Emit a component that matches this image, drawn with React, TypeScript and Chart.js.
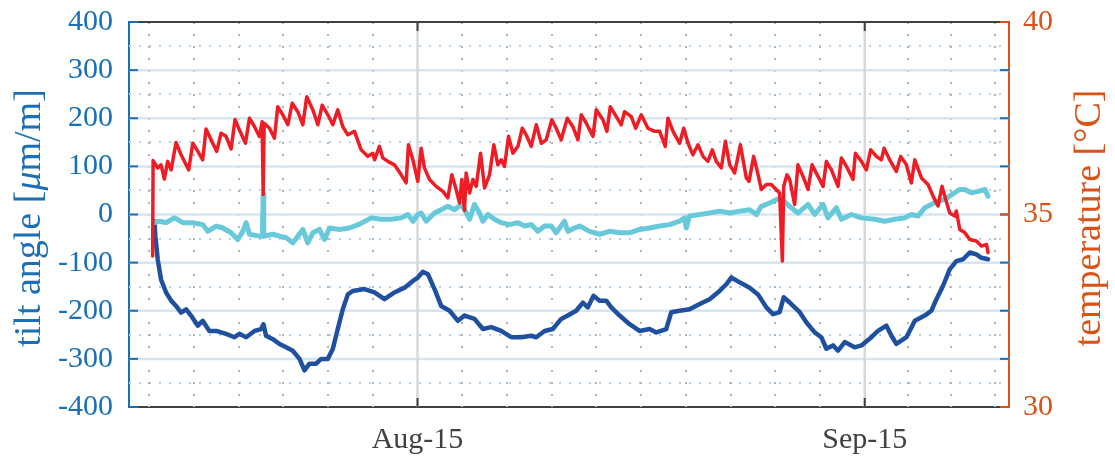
import React, { useEffect, useRef } from "react";
import { Chart, registerables } from "chart.js";

Chart.register(...registerables);

// x values are days counted in August (Aug-15 = 15, Sep-15 = 46)
const xMin = -5;
const xMax = 56;
const xTickValues = [15, 46];
const xTickLabels = ["Aug-15", "Sep-15"];
const xMinorTicks = [-3.6, -0.5, 2.6, 5.7, 8.8, 11.9, 18.1, 21.2, 24.3, 27.4, 30.5, 33.6, 36.7, 39.8, 42.9, 49, 52, 55];

const tiltTicks = [-400, -300, -200, -100, 0, 100, 200, 300, 400];
const tiltMinorTicks = [-350, -250, -150, -50, 50, 150, 250, 350];
const tempTicks = [30, 35, 40];

// temperature [°C] (red)
const tempDays = [
  -3.36, -3.33, -3.01, -2.78, -2.55, -2.32, -2.08, -1.74, -1.39, -0.86, -0.58, -0.23, 0.11, 0.34, 0.69, 1.08, 1.38, 1.73, 2.08, 2.35,
  2.65, 3.07, 3.35, 3.7, 4.04, 4.23, 4.3, 4.37, 4.74, 5.08, 5.31, 5.66, 6.01, 6.31, 6.7, 7.05, 7.32, 7.74, 8.09, 8.39,
  8.78, 9.13, 9.47, 9.82, 10.17, 10.63, 11.09, 11.55, 11.9, 12.02, 12.36, 12.59, 12.94, 13.4, 13.87, 14.21, 14.37, 14.68, 15.02, 15.25,
  15.48, 15.83, 16.29, 16.76, 17.1, 17.38, 17.68, 17.91, 18.07, 18.26, 18.37, 18.61, 18.84, 19.07, 19.37, 19.65, 19.99, 20.29, 20.57, 20.8,
  21.03, 21.31, 21.61, 21.96, 22.26, 22.53, 22.88, 23.23, 23.58, 23.92, 24.31, 24.61, 24.96, 25.38, 25.77, 26.12, 26.35, 26.7, 27.16, 27.39,
  27.85, 28.13, 28.36, 28.78, 29.12, 29.35, 29.82, 30.12, 30.51, 30.97, 31.43, 31.78, 32.17, 32.36, 32.71, 33.17, 33.45, 33.75, 34.09, 34.44,
  34.79, 35.13, 35.43, 35.71, 36.06, 36.34, 36.64, 36.98, 37.38, 37.79, 37.98, 38.3, 38.53, 38.83, 39.18, 39.52, 40.1, 40.29, 40.38, 40.61,
  40.8, 41.14, 41.37, 41.72, 42.07, 42.35, 42.76, 43.11, 43.34, 43.69, 44.15, 44.38, 44.73, 45.19, 45.35, 45.77, 46.11, 46.41, 46.81, 47.15,
  47.34, 47.73, 48.19, 48.49, 48.89, 49.23, 49.47, 49.93, 50.39, 50.74, 51.08, 51.36, 51.55, 51.89, 52.24, 52.35, 52.59, 52.93, 53.28, 53.74,
  54.09, 54.44, 54.55,
];
const tempValues = [
  33.92, 36.4, 36.21, 36.29, 35.92, 36.38, 36.16, 36.87, 36.55, 36.16, 36.85, 36.64, 36.42, 37.22, 36.94, 36.64, 37.11, 37.03, 36.7, 37.47,
  37.2, 36.85, 37.5, 37.28, 37.03, 37.41, 35.52, 37.37, 37.24, 36.98, 37.8, 37.59, 37.33, 37.89, 37.67, 37.33, 38.06, 37.72, 37.33, 37.84,
  37.59, 37.33, 37.72, 37.28, 37.07, 37.16, 36.68, 36.51, 36.59, 36.42, 36.77, 36.47, 36.38, 36.29, 36.03, 35.82, 36.81, 36.42, 35.86, 36.72,
  36.21, 35.91, 35.73, 35.6, 35.43, 36.03, 35.65, 35.3, 35.91, 35.11, 36.08, 35.56, 35.91, 35.73, 36.59, 35.69, 36.03, 36.81, 36.29, 36.42,
  36.25, 37.03, 36.59, 36.77, 37.24, 37.07, 36.77, 37.33, 36.85, 36.94, 37.46, 37.24, 36.94, 37.5, 37.28, 36.94, 37.59, 37.37, 37.03, 37.72,
  37.46, 37.16, 37.8, 37.54, 37.33, 37.67, 37.54, 37.24, 37.59, 37.24, 37.16, 37.16, 36.77, 37.5, 37.16, 36.85, 37.24, 36.85, 36.55, 36.81,
  36.51, 36.38, 36.68, 36.38, 36.21, 36.9, 36.29, 36.08, 36.81, 35.95, 35.86, 36.51, 36.16, 35.65, 35.78, 35.78, 35.56, 33.79, 35.73, 36.03,
  35.91, 35.26, 36.29, 35.99, 35.65, 36.29, 35.99, 35.73, 36.38, 36.16, 35.73, 36.47, 36.25, 35.91, 36.59, 36.38, 36.16, 36.68, 36.51, 36.42,
  36.72, 36.42, 36.12, 36.51, 36.29, 35.82, 36.42, 35.95, 35.78, 35.47, 35.22, 35.73, 35.47, 35.04, 34.96, 35.09, 34.61, 34.53, 34.35, 34.31,
  34.18, 34.22, 34.01,
];

// tilt angle [µm/m], light series (cyan)
const tiltBDays = [
  -3.24, -2.89, -2.43, -1.85, -1.27, -0.58, 0.11, 0.46, 1.04, 1.5, 2.08, 2.54, 2.89, 3.12, 3.35, 4.04, 4.25, 4.3, 4.34, 4.97,
  5.43, 5.89, 6.35, 6.7, 7.05, 7.39, 7.74, 8.2, 8.55, 8.9, 9.59, 10.28, 10.98, 11.79, 12.48, 13.17, 13.87, 14.33, 14.68, 15.02,
  15.25, 15.6, 16.18, 16.64, 17.1, 17.56, 18.03, 18.26, 18.61, 18.95, 19.3, 19.53, 19.88, 20.34, 20.8, 21.38, 21.96, 22.42, 22.88, 23.34,
  23.81, 24.27, 24.61, 25.19, 25.42, 25.89, 26.23, 26.93, 27.62, 28.31, 29.01, 29.7, 30.39, 31.09, 31.78, 32.47, 33.17, 33.51, 33.63, 33.86,
  34.56, 35.25, 35.94, 36.64, 37.33, 38.02, 38.49, 38.83, 39.41, 40.1, 40.45, 40.91, 41.37, 42.07, 42.53, 43.11, 43.45, 44.03, 44.38, 45.07,
  45.77, 46.69, 47.38, 48.08, 48.77, 49.23, 49.7, 50.16, 50.62, 51.08, 51.55, 52.01, 52.59, 52.93, 53.39, 53.86, 54.32, 54.55,
];
const tiltBValues = [
  -17, -14, -17, -7, -17, -17, -21, -35, -24, -28, -38, -52, -35, -17, -41, -45, -45, 41, -45, -41,
  -45, -48, -59, -45, -31, -59, -38, -31, -52, -28, -31, -28, -20, -7, -10, -10, -7, 0, -14, 0,
  3, -14, 3, 10, 17, 10, 21, 10, -10, 21, 3, -14, 0, -10, -17, -21, -17, -24, -21, -35,
  -24, -24, -38, -14, -35, -28, -24, -35, -41, -35, -38, -38, -31, -28, -24, -21, -14, -7, -28, -3,
  0, 3, 7, 3, 7, 10, 0, 17, 24, 34, 26, 14, 3, 21, 0, 21, -7, 14, -10, 0,
  -7, -10, -14, -10, -7, 0, -3, 14, 21, 28, 31, 41, 52, 52, 45, 48, 52, 38,
];

// tilt angle [µm/m], dark series (blue)
const tiltADays = [
  -3.24, -3.17, -3.01, -2.78, -2.43, -2.08, -1.74, -1.39, -1.04, -0.7, -0.23, 0.11, 0.57, 1.04, 1.73, 2.31, 2.65, 3.12, 3.7, 4.16,
  4.32, 4.5, 4.97, 5.43, 5.89, 6.35, 6.82, 7.16, 7.51, 7.97, 8.32, 8.78, 9.13, 9.47, 9.82, 10.17, 10.51, 11.32, 12.02, 12.71,
  13.4, 14.1, 14.68, 15.02, 15.37, 15.72, 16.18, 16.64, 17.22, 17.8, 18.26, 18.95, 19.53, 20.11, 20.8, 21.49, 22.19, 22.88, 23.23, 23.81,
  24.38, 24.96, 25.42, 26.0, 26.46, 26.81, 27.2, 27.62, 28.08, 28.43, 29.01, 29.7, 30.39, 31.09, 31.55, 32.24, 32.59, 33.17, 33.86, 34.56,
  35.25, 35.94, 36.4, 36.75, 37.33, 38.02, 38.6, 39.18, 39.64, 40.1, 40.38, 40.8, 41.49, 41.95, 42.53, 42.99, 43.34, 43.8, 44.15, 44.61,
  45.3, 45.77, 46.46, 46.92, 47.5, 47.85, 48.19, 48.89, 49.47, 50.16, 50.62, 50.97, 51.43, 51.89, 52.35, 52.82, 53.28, 53.74, 54.09, 54.55,
];
const tiltAValues = [
  -14, -45, -93, -135, -162, -179, -190, -204, -197, -210, -231, -221, -242, -242, -248, -255, -248, -255, -242, -238,
  -228, -252, -259, -269, -276, -283, -300, -324, -310, -310, -300, -300, -279, -238, -197, -166, -159, -155, -162, -176,
  -162, -152, -138, -131, -119, -124, -155, -190, -200, -221, -210, -217, -238, -234, -242, -255, -255, -252, -255, -242,
  -238, -217, -210, -200, -183, -193, -169, -179, -179, -193, -210, -228, -242, -238, -245, -238, -203, -200, -197, -186,
  -176, -159, -145, -131, -141, -152, -166, -193, -207, -203, -172, -183, -203, -224, -245, -255, -279, -272, -283, -265,
  -276, -272, -255, -242, -231, -252, -269, -255, -221, -210, -200, -176, -148, -114, -97, -93, -79, -83, -90, -93,
];

const BLUE_AXIS = "#1a6fb6";
const ORANGE_AXIS = "#d95319";
const DARK = "#404040";
const SERIF = "'Liberation Serif', 'Times New Roman', serif";

const toPoints = (xs: number[], ys: number[]) => xs.map((x, i) => ({ x, y: ys[i] }));

const zeroPadding = (s: any) => {
  s.paddingTop = 0;
  s.paddingBottom = 0;
  s.paddingLeft = 0;
  s.paddingRight = 0;
};

const decorPlugin = {
  id: "matlabDecor",
  beforeDatasetsDraw(chart: any) {
    const { ctx, chartArea: a, scales } = chart;
    const xs = scales.x;
    const ys = scales.y;
    const hline = (py: number) => {
      ctx.beginPath();
      ctx.moveTo(a.left, py);
      ctx.lineTo(a.right, py);
      ctx.stroke();
    };
    const vline = (px: number) => {
      ctx.beginPath();
      ctx.moveTo(px, a.top);
      ctx.lineTo(px, a.bottom);
      ctx.stroke();
    };
    ctx.save();
    ctx.beginPath();
    ctx.rect(a.left, a.top, a.right - a.left, a.bottom - a.top);
    ctx.clip();
    ctx.lineWidth = 2;
    ctx.strokeStyle = "#b2d3ea";
    ctx.setLineDash([2, 8]);
    tiltMinorTicks.forEach((v) => hline(Math.round(ys.getPixelForValue(v))));
    ctx.strokeStyle = "#b3b3b3";
    ctx.setLineDash([2, 10]);
    xMinorTicks.forEach((d) => vline(Math.round(xs.getPixelForValue(d))));
    ctx.setLineDash([]);
    ctx.strokeStyle = "#d4e6f3";
    ctx.lineWidth = 2.5;
    tiltTicks.slice(1, -1).forEach((v) => hline(ys.getPixelForValue(v)));
    ctx.strokeStyle = "#d8d8d8";
    xTickValues.forEach((d) => vline(xs.getPixelForValue(d)));
    ctx.restore();
  },
  afterDraw(chart: any) {
    const { ctx, chartArea: a, scales } = chart;
    const xs = scales.x;
    const ys = scales.y;
    const yt = scales.y2;
    const seg = (x1: number, y1: number, x2: number, y2: number) => {
      ctx.beginPath();
      ctx.moveTo(x1, y1);
      ctx.lineTo(x2, y2);
      ctx.stroke();
    };
    ctx.save();
    ctx.lineWidth = 2;
    ctx.strokeStyle = DARK;
    seg(a.left, a.top, a.right, a.top);
    const tl = 9;
    xTickValues.forEach((d) => {
      const px = xs.getPixelForValue(d);
      seg(px, a.bottom, px, a.bottom - tl);
      seg(px, a.top, px, a.top + tl);
    });
    ctx.strokeStyle = BLUE_AXIS;
    tiltTicks.forEach((v) => {
      const py = ys.getPixelForValue(v);
      seg(a.left, py, a.left + tl, py);
      seg(a.right - tl, py, a.right, py);
    });
    ctx.strokeStyle = ORANGE_AXIS;
    tempTicks.forEach((v) => {
      const py = yt.getPixelForValue(v);
      seg(a.right - tl, py, a.right, py);
    });
    ctx.restore();

    const drawTitle = (parts: { text: string; font: string }[], baseX: number, cy: number, color: string) => {
      ctx.save();
      ctx.translate(baseX, cy);
      ctx.rotate(-Math.PI / 2);
      ctx.fillStyle = color;
      ctx.textBaseline = "alphabetic";
      let total = 0;
      parts.forEach((p) => {
        ctx.font = p.font;
        total += ctx.measureText(p.text).width;
      });
      let x = -total / 2;
      parts.forEach((p) => {
        ctx.font = p.font;
        ctx.fillText(p.text, x, 0);
        x += ctx.measureText(p.text).width;
      });
      ctx.restore();
    };
    const cy = 218;
    drawTitle(
      [
        { text: "tilt angle [", font: `38px ${SERIF}` },
        { text: "\u03bc", font: `italic 38px ${SERIF}` },
        { text: "m/m]", font: `38px ${SERIF}` },
      ],
      40,
      cy,
      BLUE_AXIS
    );
    drawTitle([{ text: "temperature [\u00b0C]", font: `38px ${SERIF}` }], 1100, cy, ORANGE_AXIS);
  },
};

export default function App() {
  const canvasRef = useRef<HTMLCanvasElement | null>(null);

  useEffect(() => {
    document.body.style.margin = "0";
    const canvas = canvasRef.current;
    if (!canvas) return;
    const tickFont = { family: SERIF, size: 30 };
    const chart = new Chart(canvas, {
      type: "line",
      data: {
        datasets: [
          {
            label: "temperature",
            data: toPoints(tempDays, tempValues),
            yAxisID: "y2",
            borderColor: "#ee1d25",
            borderWidth: 3.5,
            pointRadius: 0,
            tension: 0,
            order: 0,
          },
          {
            label: "tilt B",
            data: toPoints(tiltBDays, tiltBValues),
            yAxisID: "y",
            borderColor: "#68c9da",
            borderWidth: 5,
            pointRadius: 0,
            tension: 0,
            order: 1,
          },
          {
            label: "tilt A",
            data: toPoints(tiltADays, tiltAValues),
            yAxisID: "y",
            borderColor: "#1f4f9f",
            borderWidth: 4.5,
            pointRadius: 0,
            tension: 0,
            order: 2,
          },
        ],
      },
      options: {
        animation: false,
        responsive: false,
        maintainAspectRatio: false,
        events: [],
        layout: { padding: { top: 22, left: 0, right: 0, bottom: 0 } },
        plugins: { legend: { display: false }, tooltip: { enabled: false } },
        elements: { line: { borderJoinStyle: "round", borderCapStyle: "round" } },
        scales: {
          x: {
            type: "linear",
            position: "bottom",
            min: xMin,
            max: xMax,
            afterBuildTicks: (s: any) => {
              s.ticks = xTickValues.map((value) => ({ value }));
            },
            afterFit: (s: any) => {
              s.height = 52;
              zeroPadding(s);
            },
            ticks: {
              autoSkip: false,
              maxRotation: 0,
              padding: 15,
              color: DARK,
              font: tickFont,
              callback: (v: any) => {
                const i = xTickValues.indexOf(Number(v));
                return i >= 0 ? xTickLabels[i] : "";
              },
            },
            grid: { drawOnChartArea: false, drawTicks: false },
            border: { color: DARK, width: 2 },
          },
          y: {
            type: "linear",
            position: "left",
            min: -400,
            max: 400,
            afterBuildTicks: (s: any) => {
              s.ticks = tiltTicks.map((value) => ({ value }));
            },
            afterFit: (s: any) => {
              s.width = 129;
              zeroPadding(s);
            },
            ticks: { padding: 16, color: BLUE_AXIS, font: tickFont },
            grid: { drawOnChartArea: false, drawTicks: false },
            border: { color: BLUE_AXIS, width: 2 },
          },
          y2: {
            type: "linear",
            position: "right",
            min: 30,
            max: 40,
            afterBuildTicks: (s: any) => {
              s.ticks = tempTicks.map((value) => ({ value }));
            },
            afterFit: (s: any) => {
              s.width = 106;
              zeroPadding(s);
            },
            ticks: { padding: 14, color: ORANGE_AXIS, font: tickFont },
            grid: { drawOnChartArea: false, drawTicks: false },
            border: { color: ORANGE_AXIS, width: 2 },
          },
        },
      },
      plugins: [decorPlugin],
    } as any);
    return () => chart.destroy();
  }, []);

  return (
    <div style={{ width: 1115, height: 459, background: "#fff" }}>
      <canvas ref={canvasRef} width={1115} height={459} style={{ display: "block" }} />
    </div>
  );
}
